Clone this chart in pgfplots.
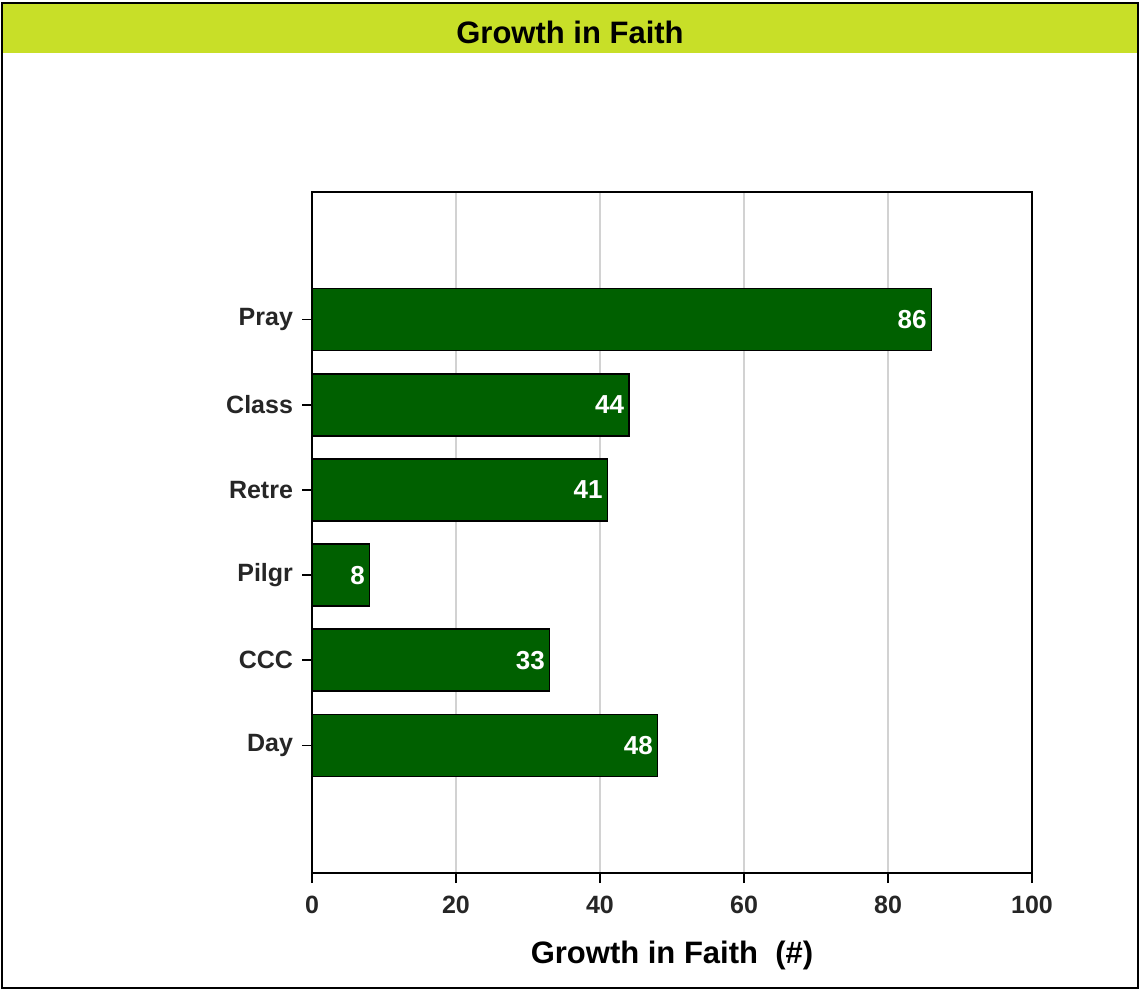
\documentclass[border=0pt]{standalone}
\usepackage{pgfplots}
\pgfplotsset{compat=1.18}
\usepackage{fontspec}
\setmainfont{Liberation Sans}
\definecolor{barg}{HTML}{006000}
\definecolor{titlebar}{HTML}{C8DF28}
\begin{document}
\begin{tikzpicture}[x=1pt,y=1pt]
\path[use as bounding box] (-156,-58.5) rectangle (414,436.5);
\fill[white] (-155,-57.5) rectangle (413,435);
\fill[titlebar] (-155,410) rectangle (413,435);
\node[font=\fontsize{15.5}{18}\selectfont\bfseries] at (129,420.5) {Growth in Faith};
\begin{axis}[
  at={(0,0)}, anchor=south west,
  scale only axis, width=360pt, height=340.5pt,
  xmin=0, xmax=100, ymin=-1.5, ymax=6.5,
  xbar, bar width=31pt,
  xtick={0,20,40,60,80,100},
  ytick={0,1,2,3,4,5},
  yticklabels={Day,CCC,Pilgr,Retre,Class,Pray},
  xtick pos=bottom, ytick pos=left,
  tick align=outside, major tick length=5pt,
  xmajorgrids, major grid style={gray!35, line width=0.6pt},
  axis line style={line width=0.7pt},
  tick style={line width=0.7pt, black},
  ticklabel style={font=\fontsize{12.5}{14}\selectfont\bfseries, text=black!85},
  xticklabel style={yshift=-3pt},
  yticklabel style={xshift=-1pt},
  /pgf/number format/assume math mode=true,
  xlabel={Growth in Faith\ \ (\#)},
  xlabel style={font=\fontsize{15.5}{18}\selectfont\bfseries, at={(axis description cs:0.5,0)}, anchor=center, yshift=-41pt},
  nodes near coords,
  every node near coord/.append style={anchor=east, text=white, font=\fontsize{13}{15}\selectfont\bfseries, inner sep=2pt},
]
\addplot[fill=barg, draw=black, line width=0.7pt] coordinates {
(48,0) (33,1) (8,2) (41,3) (44,4) (86,5)
};
\end{axis}
\draw[line width=1.2pt] (-155,-57.5) rectangle (413,435);
\end{tikzpicture}
\end{document}
